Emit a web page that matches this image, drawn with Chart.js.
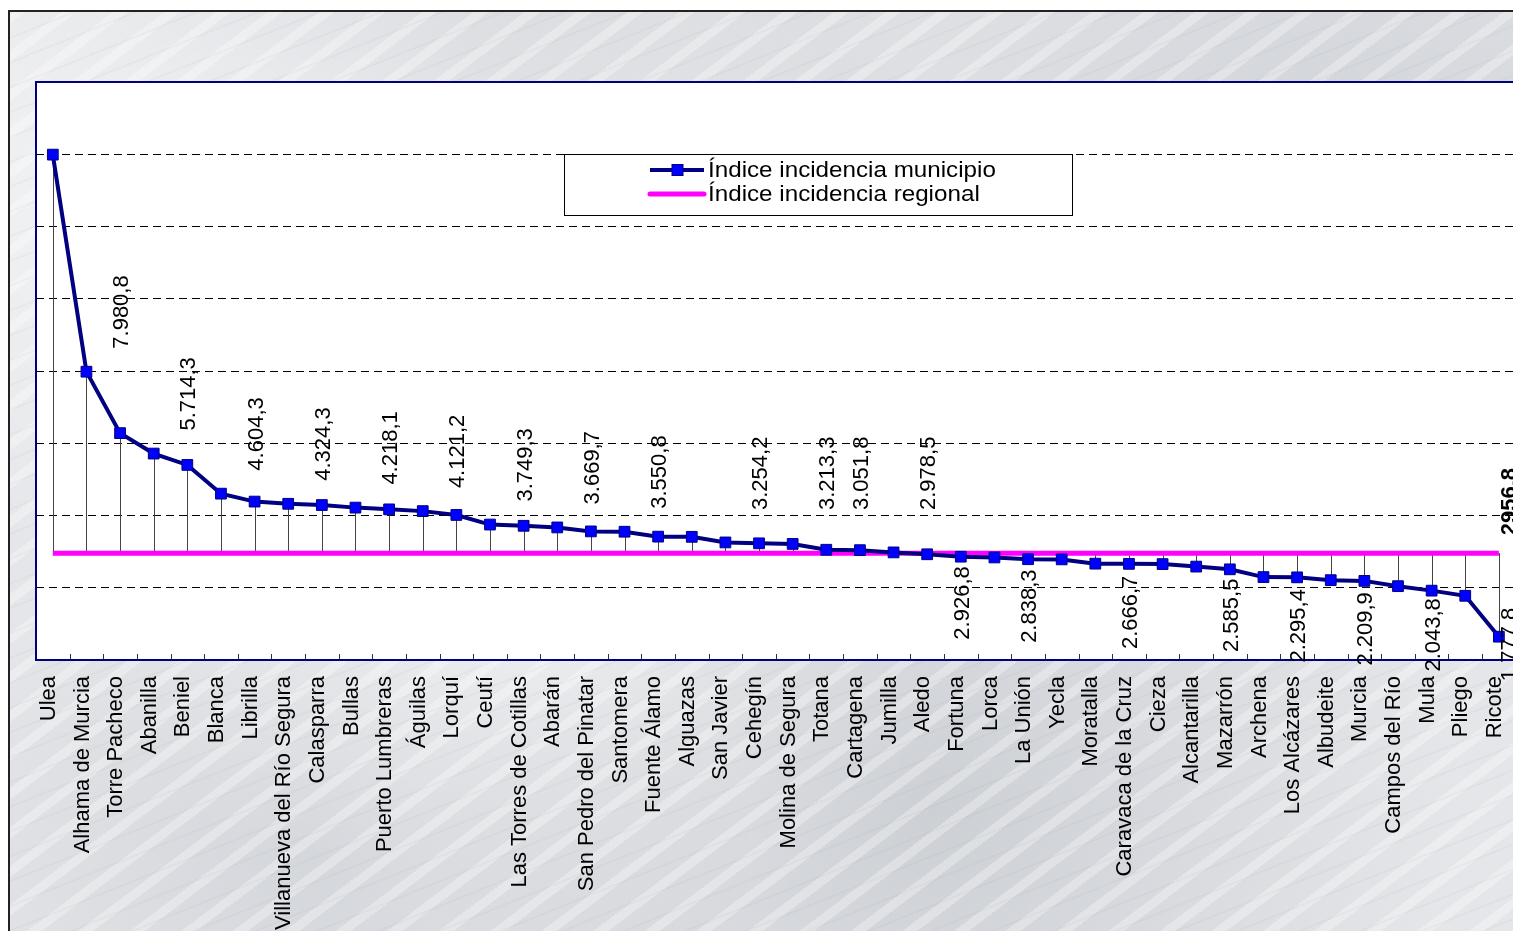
<!DOCTYPE html>
<html lang="es">
<head>
<meta charset="utf-8">
<title>Índice incidencia municipio</title>
<script src="https://cdn.jsdelivr.net/npm/chart.js@4.4.1/dist/chart.umd.min.js"></script>
<style>
  html, body { margin: 0; padding: 0; background: #fff; overflow: hidden; }
  #marco {
    position: absolute; left: 8px; top: 10px; width: 1540px; height: 940px;
    border-top: 2px solid #222; border-left: 2px solid #222;
    background-color: #e4e6e9;
    background-image:
      repeating-linear-gradient(158deg, rgba(120,125,135,0.05) 0 2px, transparent 2px 23px),
      repeating-linear-gradient(143deg, rgba(255,255,255,0.30) 0 9px, transparent 9px 31px),
      radial-gradient(ellipse at 15% 20%, rgba(255,255,255,0.6), transparent 35%),
      radial-gradient(ellipse at 60% 85%, rgba(150,155,165,0.30), transparent 40%),
      radial-gradient(ellipse at 85% 10%, rgba(160,165,175,0.25), transparent 35%),
      radial-gradient(ellipse at 30% 5%, rgba(150,155,165,0.25), transparent 30%),
      radial-gradient(ellipse at 20% 90%, rgba(160,165,175,0.25), transparent 25%),
      radial-gradient(ellipse at 35% 70%, rgba(255,255,255,0.55), transparent 30%);
  }
  #grafico { position: absolute; left: 0; top: 0; }
</style>
</head>
<body>
<div id="marco"></div>
<canvas id="grafico" width="1530" height="931"></canvas>
<script>
/* =====================
   DATOS
===================== */
const municipios = [
  "Ulea", "Alhama de Murcia", "Torre Pacheco", "Abanilla", "Beniel", "Blanca",
  "Librilla", "Villanueva del Río Segura", "Calasparra", "Bullas", "Puerto Lumbreras",
  "Águilas", "Lorquí", "Ceutí", "Las Torres de Cotillas", "Abarán",
  "San Pedro del Pinatar", "Santomera", "Fuente Álamo", "Alguazas", "San Javier",
  "Cehegín", "Molina de Segura", "Totana", "Cartagena", "Jumilla", "Aledo",
  "Fortuna", "Lorca", "La Unión", "Yecla", "Moratalla", "Caravaca de la Cruz",
  "Cieza", "Alcantarilla", "Mazarrón", "Archena", "Los Alcázares", "Albudeite",
  "Murcia", "Campos del Río", "Mula", "Pliego", "Ricote"
];

const incidencia = [
  13990, 7980.8, 6280, 5714.3, 5400, 4604.3,
  4385, 4324.3, 4290, 4218.1, 4170,
  4121.2, 4015, 3749.3, 3715, 3669.7,
  3560, 3550.8, 3415, 3410, 3254.2,
  3230, 3213.3, 3051.8, 3040, 2978.5, 2926.8,
  2860, 2838.3, 2790, 2785, 2666.7, 2662,
  2655, 2585.5, 2510, 2295.4, 2288, 2209.9,
  2190, 2043.8, 1920, 1777.8, 645
];

const regional = 2956.8;

// puntos cuyo valor aparece rotulado en el original
const conEtiqueta = [1, 3, 5, 7, 9, 11, 13, 15, 17, 20, 22, 23, 25, 26, 28, 31, 34, 36, 38, 40, 42];

/* =====================
   HELPERS
===================== */
const FUENTE = '"Liberation Sans", Arial, sans-serif';

function formato(v, miles) {
  const [ent, dec] = v.toFixed(1).split(".");
  const e = miles ? ent.replace(/\B(?=(\d{3})+(?!\d))/g, ".") : ent;
  return e + "," + dec;
}

/* =====================
   PLUGINS
===================== */
const fondo = {
  id: "fondo",
  beforeDraw(chart) {
    const { ctx, chartArea: a } = chart;
    ctx.save();
    ctx.fillStyle = "#fff";
    ctx.fillRect(a.left, a.top, a.right - a.left, a.bottom - a.top);
    ctx.restore();
  }
};

const marcoYLineas = {
  id: "marcoYLineas",
  beforeDatasetsDraw(chart) {
    const { ctx, chartArea: a, scales: { x, y } } = chart;
    ctx.save();
    // lineas de maximos y minimos
    ctx.strokeStyle = "#444";
    ctx.lineWidth = 1;
    const yr = y.getPixelForValue(regional);
    incidencia.forEach((v, i) => {
      const px = Math.round(x.getPixelForValue(i)) + 0.5;
      ctx.beginPath();
      ctx.moveTo(px, y.getPixelForValue(v));
      ctx.lineTo(px, yr);
      ctx.stroke();
    });
    // marcas del eje x
    ctx.strokeStyle = "#333";
    const w = (a.right - a.left) / municipios.length;
    for (let k = 1; k < municipios.length; k++) {
      const px = Math.round(a.left + k * w) + 0.5;
      ctx.beginPath();
      ctx.moveTo(px, a.bottom);
      ctx.lineTo(px, a.bottom - 6);
      ctx.stroke();
    }
    // marco del area de trazado
    ctx.strokeStyle = "#000080";
    ctx.lineWidth = 2;
    ctx.strokeRect(a.left, a.top, a.right - a.left, a.bottom - a.top);
    ctx.restore();
  }
};

const etiquetas = {
  id: "etiquetas",
  afterDatasetsDraw(chart) {
    const { ctx, scales: { x, y } } = chart;
    const ultimo = municipios.length - 1;
    ctx.save();
    ctx.fillStyle = "#000";
    ctx.textBaseline = "middle";
    ctx.font = "22px " + FUENTE;
    conEtiqueta.forEach(i => {
      const px = x.getPixelForValue(i + 1) + (i + 1 === ultimo ? 11 : 2);
      const py = y.getPixelForValue(incidencia[i]);
      ctx.save();
      if (incidencia[i] >= regional) {
        ctx.translate(px, Math.min(py - 23, 510));
        ctx.rotate(-Math.PI / 2);
        ctx.textAlign = "left";
      } else {
        ctx.translate(px, py + 12);
        ctx.rotate(-Math.PI / 2);
        ctx.textAlign = "right";
      }
      ctx.fillText(formato(incidencia[i], true), 0, 0);
      ctx.restore();
    });
    // valor regional
    ctx.font = "bold 22px " + FUENTE;
    ctx.translate(x.getPixelForValue(ultimo) + 11, y.getPixelForValue(regional) - 18);
    ctx.rotate(-Math.PI / 2);
    ctx.textAlign = "left";
    ctx.fillText(formato(regional, false), 0, 0);
    ctx.restore();
  }
};

const leyenda = {
  id: "leyenda",
  afterDraw(chart) {
    const { ctx } = chart;
    const ds = chart.data.datasets;
    ctx.save();
    ctx.fillStyle = "#fff";
    ctx.fillRect(564, 154, 508, 61);
    ctx.strokeStyle = "#000";
    ctx.lineWidth = 1;
    ctx.strokeRect(564.5, 154.5, 508, 61);

    const filas = [170, 194];
    ds.forEach((d, k) => {
      const yy = filas[k];
      ctx.strokeStyle = d.borderColor;
      ctx.lineWidth = d.borderWidth;
      ctx.lineCap = k === 1 ? "round" : "butt";
      ctx.beginPath();
      ctx.moveTo(650, yy);
      ctx.lineTo(704, yy);
      ctx.stroke();
      if (d.pointRadius > 0) {
        ctx.fillStyle = d.pointBackgroundColor;
        ctx.strokeStyle = d.pointBorderColor;
        ctx.lineWidth = 1;
        ctx.fillRect(672, yy - 5.5, 11, 11);
        ctx.strokeRect(672, yy - 5.5, 11, 11);
      }
      ctx.save();
      ctx.translate(708, yy);
      ctx.scale(1.1, 1);
      ctx.fillStyle = "#000";
      ctx.font = "22px " + FUENTE;
      ctx.textBaseline = "middle";
      ctx.textAlign = "left";
      ctx.fillText(d.label, 0, 1);
      ctx.restore();
    });
    ctx.restore();
  }
};

/* =====================
   GRAFICO
===================== */
new Chart(document.getElementById("grafico"), {
  type: "line",
  data: {
    labels: municipios,
    datasets: [
      {
        label: "Índice incidencia municipio",
        data: incidencia,
        borderColor: "#000080",
        borderWidth: 4,
        tension: 0,
        pointStyle: "rect",
        pointRadius: 7.6,
        pointBackgroundColor: "#0000FF",
        pointBorderColor: "#000080",
        pointBorderWidth: 1
      },
      {
        label: "Índice incidencia regional",
        data: municipios.map(() => regional),
        borderColor: "#FF00FF",
        borderWidth: 5,
        tension: 0,
        pointRadius: 0
      }
    ]
  },
  options: {
    responsive: false,
    animation: false,
    devicePixelRatio: 1,
    layout: { padding: { left: 36, top: 82, right: 14.3, bottom: 0 } },
    plugins: {
      legend: { display: false },
      tooltip: { enabled: false }
    },
    scales: {
      x: {
        offset: true,
        grid: { display: false },
        border: { display: false },
        ticks: {
          autoSkip: false,
          minRotation: 90,
          maxRotation: 90,
          padding: 8,
          labelOffset: -4,
          color: "#000",
          font: { family: FUENTE, size: 22 }
        },
        afterFit: s => {
          s.height = 271;
          s.paddingLeft = 0;
          s.paddingRight = 0;
        }
      },
      y: {
        min: 0,
        max: 16000,
        border: { display: false, dash: [8, 5] },
        ticks: { display: false, stepSize: 2000 },
        grid: {
          drawTicks: false,
          color: c => (c.tick.value === 0 || c.tick.value === 16000) ? "transparent" : "#000",
          lineWidth: 1
        }
      }
    }
  },
  plugins: [fondo, marcoYLineas, etiquetas, leyenda]
});
</script>
</body>
</html>
